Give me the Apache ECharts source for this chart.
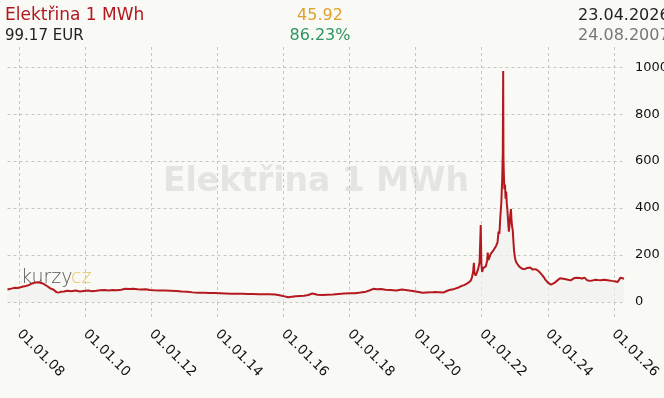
<!DOCTYPE html>
<html><head><meta charset="utf-8">
<script src="https://cdn.jsdelivr.net/npm/echarts@6/dist/echarts.min.js"></script>
<style>html,body{margin:0;padding:0;background:#f9f9f5;}#c{width:664px;height:398px;}</style>
</head><body><div id="c"></div>
<script>
const titleText = 'Elektřina 1 MWh';
const priceText = '99.17 EUR';
const changeText = '45.92';
const changePctText = '86.23%';
const lastDateText = '23.04.2026';
const firstDateText = '24.08.2007';
const startDate = '2007-08-24';
const endDate = '2026-04-23';
const xTickDates = ['2008-01-01','2010-01-01','2012-01-01','2014-01-01','2016-01-01','2018-01-01','2020-01-01','2022-01-01','2024-01-01','2026-01-01'];
const yTicks = [0, 200, 400, 600, 800, 1000];
const yMax = 1086;

const dates = [
'2007-08-24','2007-09-15','2007-10-15','2007-11-15','2007-12-15','2008-01-15','2008-02-15','2008-03-15','2008-04-15','2008-05-15',
'2008-06-15','2008-07-05','2008-07-25','2008-08-15','2008-09-10','2008-10-10','2008-11-10','2008-12-10','2009-01-15','2009-02-15',
'2009-03-10','2009-04-10','2009-05-10','2009-06-15','2009-08-01','2009-09-15','2009-11-01','2009-12-15','2010-02-01','2010-03-15',
'2010-05-01','2010-06-15','2010-08-01','2010-09-15','2010-11-01','2010-12-15','2011-02-01','2011-03-20','2011-05-01','2011-06-15',
'2011-08-01','2011-09-15','2011-11-01','2011-12-15','2012-02-01','2012-04-01','2012-06-01','2012-08-01','2012-10-01','2012-12-01',
'2013-02-01','2013-04-01','2013-06-01','2013-08-01','2013-10-01','2013-12-01','2014-02-01','2014-04-01','2014-06-01','2014-08-01',
'2014-10-01','2014-12-01','2015-02-01','2015-04-01','2015-06-01','2015-08-01','2015-10-01','2015-12-01','2016-01-15','2016-02-20',
'2016-04-01','2016-05-15','2016-07-01','2016-08-15','2016-10-01','2016-11-15','2016-12-10','2017-01-10','2017-03-01','2017-05-01',
'2017-07-01','2017-09-01','2017-11-01','2018-01-01','2018-03-01','2018-05-01','2018-07-01','2018-08-15','2018-09-20','2018-11-01',
'2018-12-15','2019-02-01','2019-04-01','2019-06-01','2019-08-01','2019-10-01','2019-12-01','2020-02-01','2020-03-20','2020-05-01',
'2020-06-15','2020-08-01','2020-09-15','2020-11-01','2020-12-15','2021-01-20','2021-02-20','2021-03-20','2021-04-20','2021-05-20',
'2021-06-20','2021-07-20','2021-08-10','2021-08-31','2021-09-15','2021-09-28','2021-10-06','2021-10-12','2021-10-25','2021-11-08',
'2021-11-22','2021-12-08','2021-12-21','2021-12-28','2022-01-05','2022-01-18','2022-02-01','2022-02-15','2022-03-01','2022-03-08',
'2022-03-15','2022-03-28','2022-04-10','2022-04-25','2022-05-10','2022-05-25','2022-06-10','2022-06-25','2022-07-05','2022-07-15',
'2022-07-25','2022-08-05','2022-08-15','2022-08-22','2022-08-26','2022-08-29','2022-09-02','2022-09-08','2022-09-15','2022-09-22',
'2022-09-28','2022-10-05','2022-10-12','2022-10-20','2022-10-28','2022-11-05','2022-11-12','2022-11-20','2022-11-26','2022-12-03',
'2022-12-10','2022-12-17','2022-12-24','2023-01-03','2023-01-12','2023-01-24','2023-02-08','2023-02-22','2023-03-08','2023-03-22',
'2023-04-05','2023-04-20','2023-05-05','2023-05-20','2023-06-05','2023-06-20','2023-07-05','2023-07-20','2023-08-05','2023-08-20',
'2023-09-05','2023-09-20','2023-10-05','2023-10-20','2023-11-05','2023-11-20','2023-12-05','2023-12-20','2024-01-10','2024-02-05',
'2024-02-20','2024-03-10','2024-03-25','2024-04-10','2024-04-25','2024-05-15','2024-06-01','2024-06-20','2024-07-10','2024-08-01',
'2024-08-20','2024-09-10','2024-10-01','2024-10-20','2024-11-10','2024-12-01','2024-12-20','2025-01-15','2025-02-10','2025-03-10',
'2025-04-10','2025-05-10','2025-06-10','2025-07-10','2025-08-10','2025-09-10','2025-10-10','2025-11-10','2025-12-10','2026-01-10',
'2026-02-10','2026-03-01','2026-03-15','2026-04-01','2026-04-23'
];
const prices = [
53.25,55,58,61,60,63,66,68,72,78,
82,88,84,86,80,74,66,58,52,42,
40,44,45,48,46,49,45,47,49,46,
48,50,51,49,51,50,52,56,55,56,
54,53,54,51,50,49,49,48,47,45,
44,41,39,39,38,38,37,36,35,35,
35,34,34,33,33,33,32,28,24,20,
22,24,26,27,30,36,34,31,30,31,
32,34,36,37,37,40,44,50,56,54,
55,52,51,49,53,50,47,43,39,40,
41,43,42,40,48,52,54,58,62,68,
72,78,82,90,105,130,167,125,112,125,
140,170,328,160,128,145,140,152,175,210,
178,190,205,200,220,215,240,255,300,290,
360,420,520,640,984,620,550,480,500,440,
470,420,390,340,300,330,370,396,350,320,
306,260,220,190,175,165,158,150,145,142,
150,140,138,145,140,147,144,138,145,140,
136,132,128,120,112,105,95,88,80,74,
72,80,85,90,92,101,95,99,92,96,
98,92,95,102,96,103,97,100,104,93,
90,92,95,94,93,95,94,92,90,88,
85,95,104,97,99.17
];

const ts = s => Date.parse(s + 'T00:00:00Z');
const seriesData = dates.map((d, i) => [ts(d), prices[i]]);
const xTicks = xTickDates.map(ts);
const pad = n => (n < 10 ? '0' : '') + n;
const fmtDate = v => { const d = new Date(v); return pad(d.getUTCDate()) + '.' + pad(d.getUTCMonth() + 1) + '.' + pad(d.getUTCFullYear() % 100); };

const gridCol = '#c6c6c6';
const chart = echarts.init(document.getElementById('c'), null, {renderer: 'canvas'});
chart.setOption({
  backgroundColor: '#f9f9f5',
  animation: false,
  grid: {left: 7.5, right: 40, top: 47, bottom: 96, containLabel: false, outerBoundsMode: 'none'},
  xAxis: {
    type: 'value',
    min: ts(startDate), max: ts(endDate),
    axisLine: {show: false},
    axisTick: {show: true, length: 18, customValues: xTicks, lineStyle: {color: gridCol, type: [3, 3], width: 1}},
    splitLine: {show: true, lineStyle: {color: gridCol, type: [3, 3], width: 1}},
    axisLabel: {customValues: xTicks, rotate: -45, margin: 30, color: '#111', fontSize: 13.5, fontFamily: 'DejaVu Sans', formatter: fmtDate, hideOverlap: false}
  },
  yAxis: {
    type: 'value', position: 'right', min: 0, max: yMax,
    axisLine: {show: false},
    axisTick: {show: false, customValues: yTicks},
    splitLine: {show: true, lineStyle: {color: gridCol, type: [3, 3], width: 1}},
    axisLabel: {customValues: yTicks, margin: 11, color: '#111', fontSize: 13, fontFamily: 'DejaVu Sans', formatter: v => String(v)}
  },
  graphic: [
    {type: 'text', z: -10, style: {x: 316, y: 182, text: titleText, align: 'center', verticalAlign: 'middle', font: 'bold 33px "DejaVu Sans"', fill: '#e4e4e2'}},
    {type: 'text', z: -10, style: {x: 21, y: 278, text: 'kurzy', align: 'left', verticalAlign: 'middle', font: '200 19px "DejaVu Sans"', fill: '#555'}},
    {type: 'text', z: -10, style: {x: 71, y: 278, text: 'cz', align: 'left', verticalAlign: 'middle', font: '200 19px "DejaVu Sans"', fill: '#e6c260'}},
    {type: 'text', style: {x: 5, y: 16, text: titleText, align: 'left', verticalAlign: 'middle', font: '17px "DejaVu Sans"', fill: '#b2181e'}},
    {type: 'text', style: {x: 5, y: 36, text: priceText, align: 'left', verticalAlign: 'middle', font: '15px "DejaVu Sans"', fill: '#222'}},
    {type: 'text', style: {x: 320, y: 16, text: changeText, align: 'center', verticalAlign: 'middle', font: '16px "DejaVu Sans"', fill: '#dea12a'}},
    {type: 'text', style: {x: 320, y: 36, text: changePctText, align: 'center', verticalAlign: 'middle', font: '16px "DejaVu Sans"', fill: '#2f9462'}},
    {type: 'text', style: {x: 578, y: 16, text: lastDateText, align: 'left', verticalAlign: 'middle', font: '16px "DejaVu Sans"', fill: '#222'}},
    {type: 'text', style: {x: 578, y: 36, text: firstDateText, align: 'left', verticalAlign: 'middle', font: '16px "DejaVu Sans"', fill: '#777'}}
  ],
  series: [{
    type: 'line', data: seriesData, showSymbol: false, sampling: null, z: 3,
    lineStyle: {color: '#b4191f', width: 2},
    areaStyle: {color: '#f1f1ef', origin: 'start'}
  }]
});
</script></body></html>
